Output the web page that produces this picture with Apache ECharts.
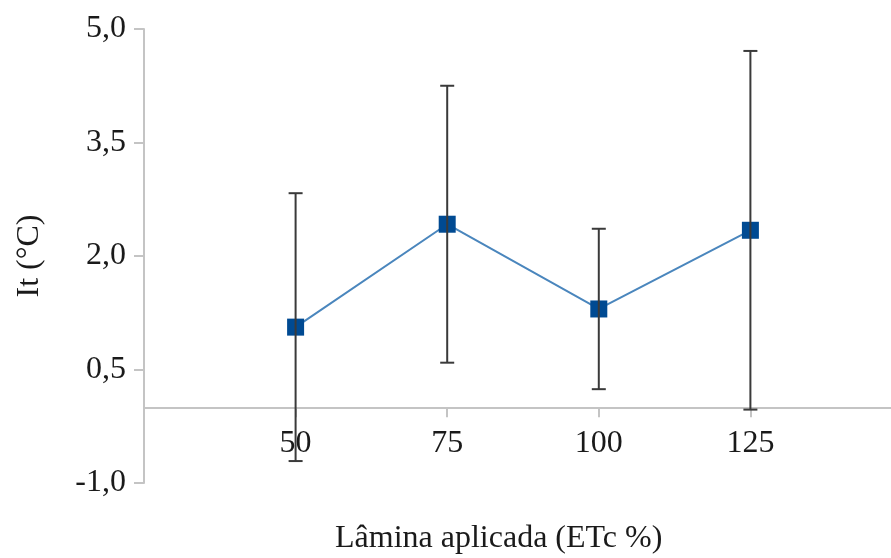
<!DOCTYPE html>
<html>
<head>
<meta charset="utf-8">
<script src="https://cdn.jsdelivr.net/npm/echarts@6/dist/echarts.min.js"></script>
<style>
  html, body { margin: 0; padding: 0; background: #ffffff; }
  #chart { width: 891px; height: 558px; }
</style>
</head>
<body>
<div id="chart"></div>
<script>
// Applied irrigation depth (% of ETc)
const laminas = [50, 75, 100, 125];
// Mean It (°C) per treatment
const itMeans = [1.06, 2.42, 1.30, 2.34];
// Half-length of each error bar
const itErrors = [1.77, 1.83, 1.06, 2.37];
// Y-axis tick values
const yTicks = [-1.0, 0.5, 2.0, 3.5, 5.0];

const FONT = '"Liberation Serif", "Times New Roman", serif';
const TEXT = '#1a1a1a';
const AXIS = '#c4c4c4';

const GRID = { left: 144, right: -11, top: 29, bottom: 75 };
const plotHeight = 558 - GRID.top - GRID.bottom;
const yMin = yTicks[0];
const yMax = yTicks[yTicks.length - 1];
// Raise the x axis from the plot bottom to the zero line
const xAxisOffset = -plotHeight * (0 - yMin) / (yMax - yMin);

const points = laminas.map((x, i) => [x, itMeans[i]]);
const bars = laminas.map((x, i) => [x, itMeans[i] - itErrors[i], itMeans[i] + itErrors[i]]);

const chart = echarts.init(document.getElementById('chart'), null, { renderer: 'canvas' });

chart.setOption({
  animation: false,
  backgroundColor: '#ffffff',
  grid: Object.assign({ containLabel: false, outerBoundsMode: 'none' }, GRID),
  xAxis: {
    type: 'value',
    min: 25,
    max: 150,
    interval: 25,
    position: 'bottom',
    offset: xAxisOffset,
    axisLine: { onZero: false, lineStyle: { color: AXIS, width: 2 } },
    axisTick: { show: true, length: 10, lineStyle: { color: AXIS, width: 2 } },
    axisLabel: {
      margin: 20,
      fontFamily: FONT, fontSize: 32, color: TEXT,
      formatter: v => (laminas.indexOf(v) >= 0 ? String(v) : '')
    },
    splitLine: { show: false }
  },
  yAxis: {
    type: 'value',
    min: yMin,
    max: yMax,
    interval: 1.5,
    name: 'It (°C)',
    nameLocation: 'middle',
    nameGap: 98,
    nameRotate: 90,
    nameTextStyle: { fontFamily: FONT, fontSize: 32, color: TEXT },
    axisLine: { show: true, onZero: false, lineStyle: { color: AXIS, width: 2 } },
    axisTick: { show: true, length: 10, lineStyle: { color: AXIS, width: 2 } },
    axisLabel: {
      margin: 18,
      fontFamily: FONT, fontSize: 32, color: TEXT,
      formatter: v => v.toFixed(1).replace('.', ',')
    },
    splitLine: { show: false }
  },
  graphic: [{
    type: 'text',
    left: 335,
    top: 523,
    style: { text: 'Lâmina aplicada (ETc %)', font: '32px ' + FONT, fill: TEXT }
  }],
  series: [
    {
      type: 'line',
      data: points,
      symbol: 'rect',
      symbolSize: 17,
      lineStyle: { color: '#4a86bd', width: 2 },
      itemStyle: { color: '#004a92' },
      z: 2
    },
    {
      type: 'custom',
      data: bars,
      z: 3,
      renderItem: function (params, api) {
        const x = api.value(0);
        const lo = api.coord([x, api.value(1)]);
        const hi = api.coord([x, api.value(2)]);
        const cap = 7;
        const style = { stroke: '#3a3a3a', lineWidth: 2 };
        return {
          type: 'group',
          children: [
            { type: 'line', shape: { x1: lo[0], y1: lo[1], x2: hi[0], y2: hi[1] }, style },
            { type: 'line', shape: { x1: hi[0] - cap, y1: hi[1], x2: hi[0] + cap, y2: hi[1] }, style },
            { type: 'line', shape: { x1: lo[0] - cap, y1: lo[1], x2: lo[0] + cap, y2: lo[1] }, style }
          ]
        };
      }
    }
  ]
});
</script>
</body>
</html>
